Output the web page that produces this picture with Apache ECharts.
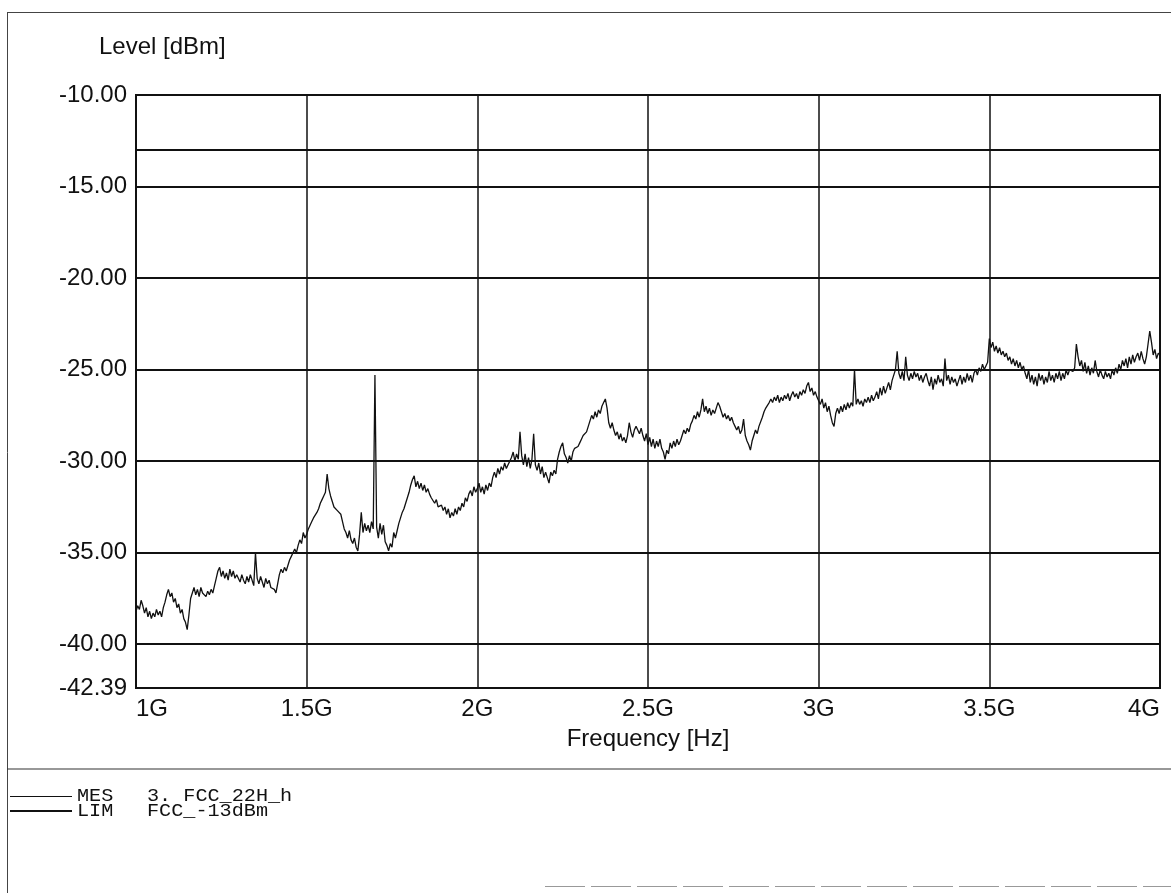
<!DOCTYPE html>
<html>
<head>
<meta charset="utf-8">
<title>Level vs Frequency</title>
<script src="https://cdn.jsdelivr.net/npm/echarts@6/dist/echarts.min.js"></script>
<style>
  html, body { margin: 0; padding: 0; background: #ffffff; }
  #chart { width: 1171px; height: 893px; }
</style>
</head>
<body>
<div id="chart"></div>
<script>
// Sweep grid of the measured trace (GHz)
const FREQ_START_GHZ = 1.0;
const FREQ_STEP_GHZ = 0.005;

// MES 3. FCC_22H_h : measured level [dBm], one row per 0.1 GHz
const MES_LEVEL = [
  -38.2,-37.9,-38.1,-37.6,-37.9,-38.3,-38.0,-38.5,-38.2,-38.6,-38.3,-38.5,-38.1,-38.4,-38.2,-38.5,-38.0,-37.7,-37.3,-37.0,
  -37.4,-37.2,-37.7,-37.5,-38.0,-37.8,-38.3,-38.1,-38.6,-38.8,-39.2,-38.4,-37.5,-37.2,-36.9,-37.3,-37.0,-37.4,-36.9,-37.2,
  -37.2,-37.4,-37.1,-37.3,-37.0,-37.2,-36.8,-36.4,-36.0,-35.8,-36.3,-36.0,-36.4,-36.1,-36.5,-35.9,-36.3,-36.0,-36.4,-36.2,
  -36.3,-36.6,-36.2,-36.5,-36.7,-36.3,-36.6,-36.2,-36.5,-36.8,-35.0,-36.4,-36.7,-36.3,-36.6,-36.9,-36.4,-36.7,-36.5,-36.9,
  -36.8,-37.0,-37.2,-36.7,-36.2,-35.9,-36.1,-35.8,-36.0,-35.7,-35.4,-35.2,-35.0,-34.8,-35.0,-34.6,-34.3,-34.5,-33.9,-34.2,
  -34.0,-33.7,-33.5,-33.3,-33.1,-33.0,-32.8,-32.6,-32.3,-32.1,-31.9,-31.7,-30.7,-31.5,-31.9,-32.2,-32.5,-32.4,-32.7,-32.6,
  -32.9,-33.3,-33.7,-33.9,-34.2,-33.8,-34.3,-34.5,-34.2,-34.7,-34.9,-34.0,-32.8,-33.9,-33.4,-33.8,-33.5,-33.9,-33.3,-33.7,
  -25.3,-33.6,-34.2,-33.4,-34.0,-33.5,-34.4,-34.6,-34.9,-34.5,-34.7,-33.9,-34.2,-33.8,-33.4,-33.1,-32.8,-32.6,-32.3,-32.0,
  -31.7,-31.3,-31.0,-30.8,-31.4,-31.1,-31.5,-31.2,-31.6,-31.3,-31.7,-31.5,-31.8,-32.0,-31.9,-32.3,-32.1,-32.5,-32.6,-32.4,
  -32.7,-32.5,-32.9,-32.6,-33.1,-32.8,-33.0,-32.6,-32.9,-32.5,-32.7,-32.3,-32.5,-32.0,-32.2,-31.8,-31.6,-31.9,-31.4,-31.7,
  -31.5,-31.2,-31.7,-31.4,-31.8,-31.3,-31.6,-31.2,-31.4,-30.9,-30.6,-30.9,-30.4,-30.7,-30.3,-30.5,-30.1,-30.4,-30.2,-30.0,
  -29.8,-29.5,-30.0,-29.6,-29.9,-28.4,-29.7,-30.2,-29.6,-30.3,-29.8,-30.4,-29.9,-28.5,-30.2,-30.5,-30.1,-30.7,-30.3,-30.9,
  -30.6,-30.9,-31.2,-30.6,-30.8,-30.5,-30.7,-29.9,-29.5,-29.2,-29.0,-29.6,-29.8,-30.1,-29.7,-30.0,-29.5,-29.3,-29.4,-29.2,
  -29.0,-28.8,-28.6,-28.7,-28.4,-28.1,-27.8,-27.5,-27.7,-27.3,-27.6,-27.2,-27.4,-27.0,-26.8,-26.6,-27.1,-27.9,-28.2,-27.9,
  -28.3,-28.6,-28.4,-28.8,-28.5,-28.9,-28.7,-29.0,-28.6,-27.9,-28.4,-28.7,-28.3,-28.1,-28.3,-28.5,-28.2,-28.6,-28.9,-28.5,
  -29.1,-28.7,-29.2,-28.8,-29.3,-28.9,-29.2,-28.8,-29.3,-29.5,-29.9,-29.4,-29.6,-29.0,-29.3,-28.9,-29.2,-28.8,-29.1,-28.9,
  -28.6,-28.3,-28.5,-28.2,-28.4,-28.0,-27.8,-27.5,-27.7,-27.3,-27.6,-27.2,-26.6,-27.3,-27.0,-27.4,-27.1,-27.5,-27.2,-27.4,
  -27.1,-26.8,-27.0,-27.3,-27.6,-27.4,-27.7,-27.5,-27.8,-27.6,-27.9,-28.1,-28.3,-28.1,-28.5,-28.3,-27.7,-28.6,-28.9,-29.1,
  -29.4,-28.9,-28.6,-28.3,-28.5,-28.1,-28.0,-27.6,-27.3,-27.1,-27.0,-26.8,-26.6,-26.8,-26.5,-26.7,-26.4,-26.8,-26.5,-26.7,
  -26.4,-26.6,-26.3,-26.7,-26.4,-26.2,-26.5,-26.3,-26.6,-26.2,-26.4,-26.1,-26.3,-25.9,-25.7,-26.2,-26.0,-26.4,-26.2,-26.5,
  -26.4,-26.9,-26.6,-27.1,-26.8,-27.3,-27.0,-27.5,-27.9,-28.1,-27.4,-27.1,-27.4,-27.0,-27.3,-26.9,-27.2,-26.8,-27.1,-26.8,
  -27.0,-25.0,-26.9,-26.6,-26.9,-26.7,-27.0,-26.6,-26.8,-26.5,-26.8,-26.4,-26.7,-26.5,-26.2,-26.6,-26.0,-26.4,-25.9,-26.3,
  -26.0,-25.7,-26.1,-25.6,-25.3,-25.0,-24.0,-25.2,-25.5,-25.1,-25.6,-24.3,-25.3,-25.6,-25.2,-25.5,-25.1,-25.4,-25.2,-25.6,
  -25.3,-25.7,-25.4,-25.2,-25.6,-25.9,-25.4,-26.1,-25.5,-25.8,-25.3,-25.7,-25.5,-25.9,-24.4,-25.6,-25.3,-25.8,-25.4,-25.7,
  -25.5,-25.9,-25.6,-25.3,-25.8,-25.4,-25.7,-25.2,-25.6,-25.3,-25.7,-25.2,-25.0,-25.3,-24.9,-25.1,-24.7,-25.0,-24.8,-24.6,
  -23.3,-23.8,-23.5,-24.0,-23.7,-24.1,-23.8,-24.2,-24.0,-24.3,-24.1,-24.5,-24.3,-24.7,-24.4,-24.8,-24.5,-24.9,-24.6,-25.0,
  -24.8,-25.2,-25.5,-25.0,-25.7,-25.3,-25.8,-25.4,-25.9,-25.2,-25.6,-25.3,-25.8,-25.4,-25.7,-25.1,-25.6,-25.3,-25.7,-25.2,
  -25.5,-25.1,-25.6,-25.2,-25.5,-25.0,-25.3,-25.0,-24.9,-25.1,-24.9,-23.6,-24.3,-24.8,-24.5,-25.1,-24.6,-25.2,-24.8,-25.3,
  -24.9,-25.2,-24.5,-25.1,-25.4,-25.0,-25.3,-25.5,-25.1,-25.4,-25.2,-25.5,-25.0,-25.3,-24.9,-25.2,-24.7,-25.0,-24.5,-24.8,
  -24.4,-24.9,-24.3,-24.7,-24.2,-24.6,-24.3,-24.1,-24.5,-24.0,-24.4,-24.7,-24.3,-23.6,-22.9,-23.5,-24.2,-23.9,-24.4,-24.1,
  -24.2
];

// LIM FCC_-13dBm : limit line
const LIM_FREQ = [1.0, 4.0];
const LIM_LEVEL = [-13, -13];

// Axis ticks
const Y_TICKS = [-10, -15, -20, -25, -30, -35, -40, -42.39];
const X_MIN = 1.0, X_MAX = 4.0, X_STEP = 0.5;

// Legend rows
const LEGEND_ROWS = [
  { tag: 'MES', name: '3. FCC_22H_h', width: 1 },
  { tag: 'LIM', name: 'FCC_-13dBm', width: 2 }
];

const mesData = MES_LEVEL.map((v, i) => [FREQ_START_GHZ + i * FREQ_STEP_GHZ, v]);
const limData = LIM_FREQ.map((f, i) => [f, LIM_LEVEL[i]]);

const INK = '#111111';
const SANS = '"Liberation Sans", Arial, sans-serif';
const MONO = '"Liberation Mono", "DejaVu Sans Mono", monospace';

// Frame and legend drawn as graphic elements
const graphics = [
  { type: 'line', shape: { x1: 7, y1: 12.5, x2: 1171, y2: 12.5 }, style: { stroke: '#444', lineWidth: 1 } },
  { type: 'line', shape: { x1: 7.5, y1: 12, x2: 7.5, y2: 893 }, style: { stroke: '#444', lineWidth: 1 } },
  { type: 'line', shape: { x1: 7, y1: 769, x2: 1171, y2: 769 }, style: { stroke: '#333', lineWidth: 1.2 } },
  { type: 'line', shape: { x1: 545, y1: 886.5, x2: 1171, y2: 886.5 }, style: { stroke: '#999', lineWidth: 1, lineDash: [40, 6] } },
  {
    type: 'text', left: 99, top: 35,
    style: { text: 'Level [dBm]', font: '24px ' + SANS, fill: INK }
  }
];
LEGEND_ROWS.forEach((row, i) => {
  const y = 796 + i * 15;
  const lineY = row.width === 1 ? y + 0.5 : y;
  graphics.push(
    { type: 'line', shape: { x1: 10, y1: lineY, x2: 72, y2: lineY }, style: { stroke: INK, lineWidth: row.width } },
    { type: 'text', x: 77, y: y, scaleX: 1.12,
      style: { text: row.tag, font: '18px ' + MONO, fill: INK, verticalAlign: 'middle' } },
    { type: 'text', x: 147, y: y, scaleX: 1.12,
      style: { text: row.name, font: '18px ' + MONO, fill: INK, verticalAlign: 'middle' } }
  );
});

const chart = echarts.init(document.getElementById('chart'), null, { renderer: 'canvas' });
chart.setOption({
  animation: false,
  backgroundColor: '#ffffff',
  grid: {
    left: 136, top: 95, right: 11, bottom: 205,
    show: true, borderColor: INK, borderWidth: 2,
    outerBoundsMode: 'none'
  },
  xAxis: {
    type: 'value',
    min: X_MIN, max: X_MAX, interval: X_STEP,
    name: 'Frequency [Hz]',
    nameLocation: 'middle',
    nameGap: 39,
    nameTextStyle: { fontFamily: SANS, fontSize: 24, color: INK },
    axisLine: { show: true, lineStyle: { color: INK, width: 2 } },
    axisTick: { show: false },
    axisLabel: {
      margin: 9, fontFamily: SANS, fontSize: 24, color: INK,
      alignMinLabel: 'left', alignMaxLabel: 'right',
      formatter: v => (Math.round(v * 10) / 10) + 'G'
    },
    splitLine: { show: true, lineStyle: { color: INK, width: 1.5 } }
  },
  yAxis: {
    type: 'value',
    min: Y_TICKS[Y_TICKS.length - 1], max: Y_TICKS[0],
    axisLine: { show: true, lineStyle: { color: INK, width: 2 } },
    axisTick: { show: false, customValues: Y_TICKS },
    axisLabel: {
      margin: 9, fontFamily: SANS, fontSize: 24, color: INK,
      customValues: Y_TICKS, hideOverlap: false,
      formatter: v => v.toFixed(2)
    },
    splitLine: { show: true, lineStyle: { color: INK, width: 1.8 } }
  },
  series: [
    {
      name: 'MES',
      type: 'line',
      data: mesData,
      showSymbol: false,
      sampling: null,
      lineStyle: { color: INK, width: 1.3 },
      z: 3
    },
    {
      name: 'LIM',
      type: 'line',
      data: limData,
      showSymbol: false,
      lineStyle: { color: INK, width: 2 },
      z: 4
    }
  ],
  graphic: graphics
});
</script>
</body>
</html>
